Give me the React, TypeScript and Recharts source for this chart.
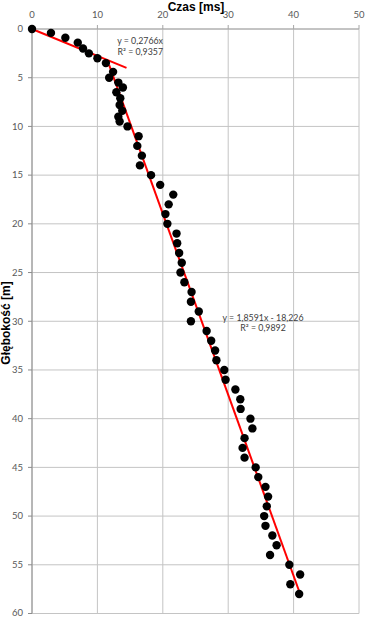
import { ScatterChart, Scatter, XAxis, YAxis, CartesianGrid, ReferenceLine } from 'recharts'

// czas [ms] i głębokość [m]
const czas = [
  0, 2.9, 5.1, 7.0, 7.8, 8.7, 10.0, 11.3, 12.4, 11.8, 13.2, 13.9, 12.9, 13.5, 13.4, 13.8, 13.2, 13.4,
  14.6, 16.3, 16.1, 16.8, 16.5, 18.2, 19.6, 21.6, 20.9, 20.4, 20.7, 22.1, 22.2, 22.5, 22.9, 22.7,
  23.3, 24.4, 24.3, 25.5, 24.3, 26.7, 27.4, 28.0, 28.2, 29.4, 29.6, 31.1, 31.85, 31.9, 33.4, 33.7,
  32.5, 32.2, 32.5, 34.2, 34.6, 35.7, 36.1, 35.9, 35.5, 35.7, 36.75, 37.4, 36.4, 39.35, 41.0, 39.5, 40.85,
]
const glebokosc = [
  0, 0.4, 0.9, 1.4, 2.0, 2.5, 3.0, 3.5, 4.4, 5.0, 5.5, 6.0, 6.5, 7.1, 7.8, 8.4, 9.0, 9.5,
  10, 11, 12, 13, 14, 15, 16, 17, 18, 19, 20, 21, 22, 23, 24, 25,
  26, 27, 28, 29, 30, 31, 32, 33, 34, 35, 36, 37, 38, 39, 40, 41,
  42, 43, 44, 45, 46, 47, 48, 49, 50, 51, 52, 53, 54, 55, 56, 57, 58,
]

const xTicks = [0, 10, 20, 30, 40, 50]
const yTicks = [0, 5, 10, 15, 20, 25, 30, 35, 40, 45, 50, 55, 60]

// linie trendu: y = a*x + b
const trend1 = { a: 0.2766, b: 0, from: 0, to: 14.45 }
const trend2 = { a: 1.8591, b: -18.226, from: 11.8, to: 41.0 }

const points = czas.map((x, i) => ({ x, y: glebokosc[i] }))

const seg = (t: { a: number; b: number; from: number; to: number }) => [
  { x: t.from, y: t.a * t.from + t.b },
  { x: t.to, y: t.a * t.to + t.b },
]

const tickStyle = { fontFamily: 'Lato', fontSize: 9.5, fill: '#595959' }
const labelStyle = { fontFamily: 'Lato', fontSize: 8.8, fill: '#404040' }
const titleStyle = { fontFamily: 'Liberation Sans, Arial', fontSize: 12, fontWeight: 700, fill: '#000' }

const Dot = (props: any) => <circle cx={props.cx} cy={props.cy} r={4.2} fill="#000" />

export default function App() {
  return (
    <div style={{ position: 'absolute', left: 0, top: 0, width: 365, height: 618, background: '#fff' }}>
      <ScatterChart width={365} height={618} margin={{ top: 0, right: 6, bottom: 4.5, left: 0 }}>
        <CartesianGrid stroke="#c4c4c4" horizontalPoints={undefined} />
        <XAxis
          type="number"
          dataKey="x"
          orientation="top"
          domain={[0, 50]}
          ticks={xTicks}
          height={29}
          tick={tickStyle}
          tickSize={4}
          tickMargin={7}
          stroke="#a6a6a6"
        />
        <YAxis
          type="number"
          dataKey="y"
          domain={[0, 60]}
          ticks={yTicks}
          reversed
          width={32}
          tick={tickStyle}
          tickSize={4}
          tickMargin={5}
          stroke="#8c8c8c"
        />
        <Scatter data={points} shape={Dot} isAnimationActive={false} />
        <ReferenceLine segment={seg(trend1)} stroke="#ff0000" strokeWidth={2} />
        <ReferenceLine segment={seg(trend2)} stroke="#ff0000" strokeWidth={2} />
      </ScatterChart>
      <svg width={365} height={618} style={{ position: 'absolute', left: 0, top: 0, pointerEvents: 'none' }}>
        <text x={196} y={10.5} textAnchor="middle" style={titleStyle}>Czas [ms]</text>
        <text x={10} y={323} textAnchor="middle" transform="rotate(-90 10 323)" style={titleStyle}>Głębokość [m]</text>
        <text x={163} y={43.7} textAnchor="end" style={labelStyle}>y = 0,2766x</text>
        <text x={163} y={54.7} textAnchor="end" style={labelStyle}>R² = 0,9357</text>
        <text x={263} y={320.7} textAnchor="middle" style={labelStyle}>y = 1,8591x - 18,226</text>
        <text x={263} y={331.3} textAnchor="middle" style={labelStyle}>R² = 0,9892</text>
      </svg>
    </div>
  )
}
